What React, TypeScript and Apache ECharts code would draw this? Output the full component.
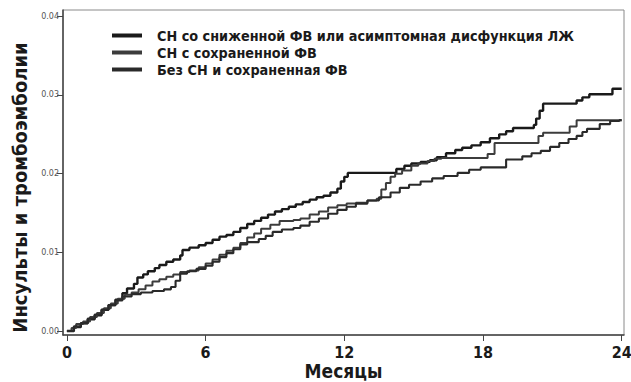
import React, { useEffect, useRef } from "react";
import * as echarts from "echarts";

const seriesNames = [
  "СН со сниженной ФВ или асимптомная дисфункция ЛЖ",
  "СН с сохраненной ФВ",
  "Без СН и сохраненная ФВ",
];

const xTicks = [0, 6, 12, 18, 24];
const yTicks = [0, 0.01, 0.02, 0.03, 0.04];

// [month, cumulative incidence]
const reducedEF: [number, number][] = [
  [0, 0], [0.3, 0.0005], [0.6, 0.001], [0.9, 0.0015], [1.2, 0.002], [1.5, 0.0027],
  [1.8, 0.0033], [2.1, 0.004], [2.4, 0.0048], [2.6, 0.0054], [2.9, 0.006], [3.05, 0.0068],
  [3.3, 0.0072], [3.5, 0.0076], [3.8, 0.008], [4.0, 0.0084], [4.3, 0.0088], [4.6, 0.0091],
  [4.9, 0.0096], [5.0, 0.0103], [5.3, 0.0106], [5.7, 0.0109], [6.0, 0.0112], [6.3, 0.0116],
  [6.6, 0.012], [6.9, 0.0122], [7.2, 0.0126], [7.5, 0.0131], [7.8, 0.0136], [8.1, 0.014],
  [8.4, 0.0144], [8.7, 0.0148], [9.0, 0.0152], [9.3, 0.0155], [9.6, 0.0158], [9.9, 0.0161],
  [10.2, 0.0164], [10.5, 0.0167], [10.8, 0.017], [11.1, 0.0172], [11.4, 0.0176], [11.7, 0.0181],
  [11.85, 0.019], [12.0, 0.0196], [12.15, 0.0201], [14.25, 0.0206], [14.6, 0.021], [14.9, 0.0213],
  [15.3, 0.0215], [15.7, 0.0217], [16.0, 0.0221], [16.4, 0.0226], [16.8, 0.023], [17.1, 0.0233],
  [17.5, 0.0236], [17.9, 0.024], [18.3, 0.0245], [18.7, 0.025], [19.0, 0.0254], [19.3, 0.0258],
  [20.2, 0.0262], [20.3, 0.027], [20.45, 0.028], [20.6, 0.0289], [22.05, 0.0293], [22.3, 0.0297],
  [22.6, 0.0301], [23.6, 0.0308], [24, 0.0308],
];

const preservedEF: [number, number][] = [
  [0, 0], [0.2, 0.0004], [0.4, 0.0009], [0.7, 0.0012], [1.0, 0.0018], [1.3, 0.0023],
  [1.6, 0.0029], [1.9, 0.0035], [2.2, 0.0041], [2.5, 0.0046], [2.8, 0.0049], [3.1, 0.0053],
  [3.4, 0.0058], [3.7, 0.0063], [4.0, 0.0066], [4.3, 0.0069], [4.6, 0.0072], [4.9, 0.0075],
  [5.3, 0.0077], [5.7, 0.0081], [6.0, 0.0086], [6.3, 0.0091], [6.6, 0.0097], [6.9, 0.0102],
  [7.2, 0.0106], [7.5, 0.0112], [7.8, 0.0119], [8.1, 0.0124], [8.4, 0.013], [8.8, 0.0135],
  [9.2, 0.014], [9.8, 0.0141], [10.1, 0.0143], [10.5, 0.0148], [10.9, 0.0152], [11.3, 0.0157],
  [11.7, 0.016], [12.1, 0.0162], [12.5, 0.0163], [13.0, 0.0166], [13.4, 0.0168], [13.6, 0.018],
  [13.8, 0.0188], [14.0, 0.0196], [14.2, 0.02], [14.5, 0.0204], [14.9, 0.021], [15.2, 0.0213],
  [15.6, 0.0216], [15.9, 0.0219], [16.2, 0.022], [18.2, 0.0225], [18.5, 0.0239], [20.4, 0.0248],
  [20.6, 0.0252], [21.75, 0.026], [22.05, 0.0268], [24, 0.0268],
];

const noHF: [number, number][] = [
  [0, 0], [0.3, 0.0006], [0.6, 0.001], [0.9, 0.0016], [1.2, 0.0021], [1.5, 0.0027],
  [1.8, 0.0033], [2.1, 0.0039], [2.4, 0.0044], [2.8, 0.0047], [3.2, 0.0049], [3.7, 0.0051],
  [4.2, 0.0053], [4.5, 0.0056], [4.7, 0.0064], [4.9, 0.0073], [5.2, 0.0076], [5.6, 0.0079],
  [6.0, 0.0083], [6.3, 0.0088], [6.6, 0.0094], [6.9, 0.0099], [7.2, 0.0104], [7.5, 0.011],
  [7.8, 0.0113], [8.3, 0.0117], [8.6, 0.0121], [8.9, 0.0126], [9.3, 0.0129], [9.8, 0.0131],
  [10.1, 0.0134], [10.5, 0.0139], [10.9, 0.0143], [11.3, 0.0149], [11.7, 0.0154], [12.1, 0.0158],
  [12.5, 0.0162], [13.0, 0.0166], [13.5, 0.017], [14.0, 0.0176], [14.4, 0.0182], [14.8, 0.0186],
  [15.3, 0.019], [15.8, 0.0194], [16.3, 0.0197], [16.9, 0.0201], [17.4, 0.0205], [17.9, 0.0208],
  [19.0, 0.0218], [19.7, 0.0222], [20.1, 0.0226], [20.5, 0.0229], [20.9, 0.0234], [21.3, 0.0239],
  [21.7, 0.0244], [22.05, 0.0248], [22.3, 0.0253], [22.5, 0.0257], [23.05, 0.0263], [23.5, 0.0267],
  [23.9, 0.0268], [24, 0.0268],
];

const FONT = "'DejaVu Sans Condensed', 'Liberation Sans Narrow', 'Noto Sans', sans-serif";

export default function App() {
  const ref = useRef<HTMLDivElement>(null);

  useEffect(() => {
    if (!ref.current) return;
    const chart = echarts.init(ref.current, undefined, { renderer: "svg" });
    const colors = ["#1a1a1a", "#3c3c3c", "#2a2a2a"];
    const widths = [2.4, 2, 2.1];
    const datasets = [reducedEF, preservedEF, noHF];
    chart.setOption({
      animation: false,
      backgroundColor: "#ffffff",
      textStyle: { fontFamily: FONT },
      grid: {
        left: 63,
        right: 7,
        top: 10,
        bottom: 47,
        show: true,
        borderColor: "#8a8a8a",
        borderWidth: 1,
        containLabel: false,
        outerBoundsMode: "none",
      },
      legend: {
        orient: "vertical",
        left: 112,
        top: 27,
        padding: 0,
        itemWidth: 30,
        itemHeight: 4,
        itemGap: 0,
        icon: "rect",
        textStyle: {
          fontFamily: FONT,
          fontWeight: "bold",
          fontSize: 14.3,
          color: "#1a1a1a",
          lineHeight: 17,
          padding: [0, 0, 0, 10],
        },
        data: seriesNames,
      },
      xAxis: {
        type: "value",
        min: -0.17,
        max: 24.1,
        name: "Месяцы",
        nameLocation: "middle",
        nameGap: 26,
        nameMoveOverlap: false,
        nameTextStyle: {
          fontFamily: FONT,
          fontWeight: "bold",
          fontSize: 19,
          lineHeight: 20,
          color: "#1a1a1a",
        },
        splitLine: { show: false },
        axisLine: { onZero: false, lineStyle: { color: "#444", width: 1.5 } },
        axisTick: { show: true, length: 6, customValues: xTicks, lineStyle: { color: "#444" } },
        axisLabel: {
          customValues: xTicks,
          fontFamily: FONT,
          fontWeight: "bold",
          fontSize: 16,
          lineHeight: 14,
          color: "#1a1a1a",
          margin: 10,
        },
      },
      yAxis: {
        type: "value",
        min: -0.0005,
        max: 0.0408,
        name: "Инсульты и тромбоэмболии",
        nameLocation: "middle",
        nameGap: 30,
        nameTextStyle: {
          fontFamily: FONT,
          fontWeight: "bold",
          fontSize: 20,
          color: "#1a1a1a",
          padding: [0, 30, 0, 0],
        },
        splitLine: { show: false },
        axisLine: { onZero: false, lineStyle: { color: "#444", width: 1.5 } },
        axisTick: { show: true, length: 6, customValues: yTicks, lineStyle: { color: "#444" } },
        axisLabel: {
          customValues: yTicks,
          formatter: (v: number) => v.toFixed(2),
          fontFamily: "'DejaVu Sans', sans-serif",
          fontSize: 8,
          color: "#555",
          margin: 4,
        },
      },
      series: datasets.map((d, i) => ({
        name: seriesNames[i],
        type: "line",
        step: "end",
        symbol: "none",
        data: d,
        color: colors[i],
        lineStyle: { color: colors[i], width: widths[i] },
      })),
    });
    return () => chart.dispose();
  }, []);

  return (
    <div
      ref={ref}
      style={{ position: "fixed", left: 0, top: 0, width: 631, height: 382, background: "#fff" }}
    />
  );
}
